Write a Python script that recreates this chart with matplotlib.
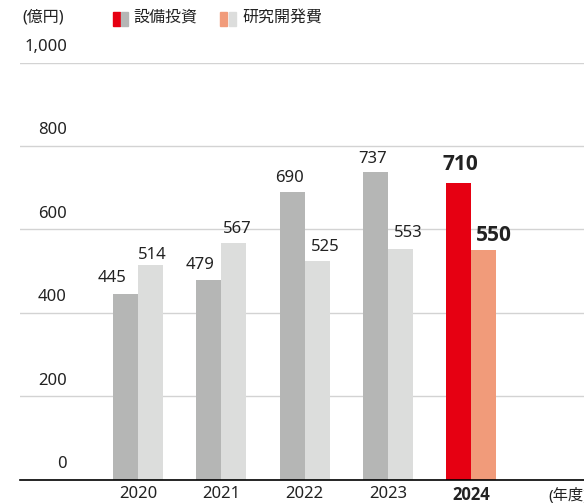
import numpy as np
import matplotlib
matplotlib.use("Agg")
import matplotlib.pyplot as plt
from matplotlib.patches import Rectangle

plt.rcParams['font.family'] = ['Noto Sans', 'Noto Sans CJK JP', 'DejaVu Sans']
bold_family = ['Open Sans', 'Noto Sans CJK JP', 'DejaVu Sans']

years = ['2020', '2021', '2022', '2023', '2024']
capex = [445, 479, 690, 737, 710]      # 設備投資
rnd = [514, 567, 525, 553, 550]        # 研究開発費
yticks = [0, 200, 400, 600, 800, 1000]
ytick_labels = ['0', '200', '400', '600', '800', '1,000']

# label nudges in pixels (dx, dy above bar top)
capex_off = [(-13.5, 16), (-8.5, 15), (-3, 14), (-2.5, 13.5), (2, 18.5)]
rnd_off = [(1.5, 10.5), (3, 14), (8.5, 14), (7.5, 16), (10.5, 14.5)]

gray_dark = '#b5b6b5'
gray_light = '#dcdddc'
red = '#e60012'
salmon = '#f19b7a'
txt = '#222222'

W, H = 584, 504
fig = plt.figure(figsize=(W / 100, H / 100), dpi=100)
ax = fig.add_axes([20 / W, 1 - 479.5 / H, 1 - 20 / W, (479.5 - 62.5) / H])

bw = 0.3
x = np.arange(len(years))
c1 = [gray_dark] * 4 + [red]
c2 = [gray_light] * 4 + [salmon]
ax.bar(x - bw / 2, capex, bw, color=c1, zorder=3)
ax.bar(x + bw / 2, rnd, bw, color=c2, zorder=3)

ax.set_xlim((20 - 138) / 83.33, (584 - 138) / 83.33)
ax.set_ylim(0, 1000)

for s in ['top', 'right', 'left']:
    ax.spines[s].set_visible(False)
ax.spines['bottom'].set_color('black')
ax.spines['bottom'].set_linewidth(1.2)
ax.spines['bottom'].set_zorder(4)

ax.set_yticks(yticks)
ax.set_yticklabels([])
ax.tick_params(axis='y', length=0)
ax.yaxis.grid(True, color='#d3d3d3', linewidth=1)
ax.set_axisbelow(True)

for v, lab in zip(yticks, ytick_labels):
    ax.annotate(lab, xy=(67 / W, v), xycoords=('figure fraction', 'data'),
                xytext=(0, 15.5), textcoords='offset pixels',
                ha='right', va='center', fontsize=12, color=txt)

ax.set_xticks(x)
ax.set_xticklabels(years, fontsize=12, color=txt)
ax.tick_params(axis='x', length=0, pad=5)
last_tick = ax.get_xticklabels()[-1]
last_tick.set_fontweight('bold')
last_tick.set_family(bold_family)

for i in range(len(years)):
    last = i == len(years) - 1
    kw = dict(fontsize=15, fontweight='bold', family=bold_family) if last else dict(fontsize=12)
    ax.annotate(str(capex[i]), xy=(x[i] - bw / 2, capex[i]),
                xytext=capex_off[i], textcoords='offset pixels',
                ha='center', va='center', color=txt, **kw)
    ax.annotate(str(rnd[i]), xy=(x[i] + bw / 2, rnd[i]),
                xytext=rnd_off[i], textcoords='offset pixels',
                ha='center', va='center', color=txt, **kw)

fig.text(548 / W, 1 - 496 / H, '(年度)', ha='left', va='center', fontsize=11, color=txt)
fig.text(22 / W, 1 - 18 / H, '(億円)', ha='left', va='center', fontsize=11.5, color=txt)

# legend
def swatch(x0, col):
    fig.patches.append(Rectangle((x0 / W, 1 - 26 / H), 7 / W, 14 / H,
                                 transform=fig.transFigure, color=col))

swatch(113, red)
swatch(121, gray_dark)
fig.text(133 / W, 1 - 18 / H, '設備投資', ha='left', va='center', fontsize=11.5, color=txt)
swatch(220, salmon)
swatch(228.5, gray_light)
fig.text(242 / W, 1 - 18 / H, '研究開発費', ha='left', va='center', fontsize=11.5, color=txt)

fig.savefig('out.png', dpi=100)
